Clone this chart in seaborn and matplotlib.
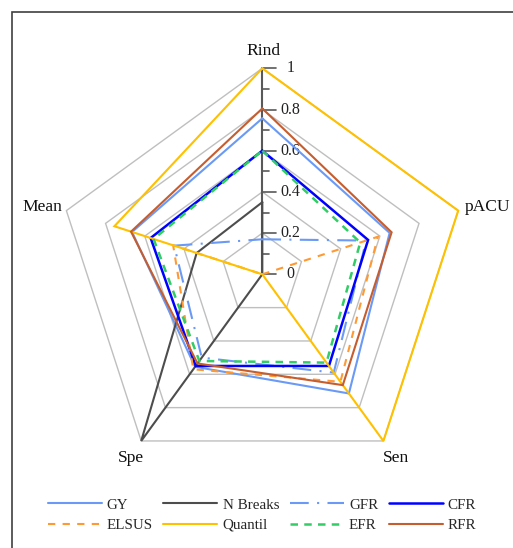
import numpy as np
import matplotlib
matplotlib.use("Agg")
import matplotlib.pyplot as plt
import seaborn as sns
from matplotlib.patches import Rectangle

# Radar axes, clockwise from the top
axis_names = ["Rind", "pACU", "Sen", "Spe", "Mean"]

# Scores per method on each axis (Rind, pACU, Sen, Spe, Mean)
gy = [0.757, 0.65, 0.715, 0.555, 0.665]
n_breaks = [0.35, 0.0, 0.0, 1.0, 0.335]
gfr = [0.17, 0.53, 0.59, 0.50, 0.45]
cfr = [0.60, 0.54, 0.55, 0.55, 0.57]
elsus = [0.0, 0.59, 0.645, 0.57, 0.455]
quantil = [1.0, 1.0, 1.0, 0.0, 0.755]
efr = [0.60, 0.50, 0.53, 0.52, 0.555]
rfr = [0.805, 0.66, 0.665, 0.535, 0.67]

series_names = ["GY", "N Breaks", "GFR", "CFR", "ELSUS", "Quantil", "EFR", "RFR"]
series_values = [gy, n_breaks, gfr, cfr, elsus, quantil, efr, rfr]

grid_levels = [0.2, 0.4, 0.6, 0.8, 1.0]
major_ticks = [0, 0.2, 0.4, 0.6, 0.8, 1]
major_labels = ["0", "0.2", "0.4", "0.6", "0.8", "1"]
minor_ticks = [0.1, 0.3, 0.5, 0.7, 0.9]

styles = {
    "GY": dict(color="#6A9AF5", linestyle="-", linewidth=1.5),
    "N Breaks": dict(color="#4D4D4D", linestyle="-", linewidth=1.5),
    "GFR": dict(color="#6A9AF5", linestyle=(0, (9, 4, 1, 4)), linewidth=1.5),
    "CFR": dict(color="#0000FF", linestyle="-", linewidth=1.8),
    "ELSUS": dict(color="#FF9933", linestyle=(0, (3.5, 3.5)), linewidth=1.5),
    "Quantil": dict(color="#FFC000", linestyle="-", linewidth=1.5),
    "EFR": dict(color="#33CC66", linestyle=(0, (3, 2.5)), linewidth=1.8),
    "RFR": dict(color="#C65D2E", linestyle="-", linewidth=1.5),
}

sns.set_theme(style="white")
plt.rcParams["font.family"] = ["Liberation Serif", "DejaVu Serif"]
plt.rcParams["lines.solid_joinstyle"] = "miter"
plt.rcParams["lines.dash_joinstyle"] = "miter"

W, H = 513, 548
scale = 206.0          # pixels per unit radius
cx, cy = 262.3, 274.3  # centre of the radar, pixels from top-left

fig = plt.figure(figsize=(W / 100, H / 100), dpi=100)
ax = fig.add_axes([0, 0, 1, 1])
ax.set_xlim(-cx / scale, (W - cx) / scale)
ax.set_ylim(-(H - cy) / scale, cy / scale)
ax.axis("off")

angles = np.deg2rad(90 - 72 * np.arange(len(axis_names)))


def to_xy(vals):
    v = np.asarray(vals, dtype=float)
    v = np.append(v, v[0])
    a = np.append(angles, angles[0])
    return v * np.cos(a), v * np.sin(a)


# pentagonal grid
for lvl in grid_levels:
    gx, gy_ = to_xy([lvl] * len(axis_names))
    ax.plot(gx, gy_, color="#BFBFBF", linewidth=1.0, zorder=1,
            solid_joinstyle="miter")

# value axis along Rind with ticks
ax.plot([0, 0], [0, 1], color="#595959", linewidth=1.5, zorder=2)
for t in major_ticks:
    ax.plot([0, 14 / scale], [t, t], color="#595959", linewidth=1.2, zorder=2)
for t in minor_ticks:
    ax.plot([0, 7 / scale], [t, t], color="#595959", linewidth=1.2, zorder=2)
for t, lab in zip(major_ticks, major_labels):
    ax.text(28 / scale, t, lab, ha="center", va="center", fontsize=11.5,
            color="#222222", zorder=3)

# series
handles = {}
for i, (name, vals) in enumerate(zip(series_names, series_values)):
    x, y = to_xy(vals)
    sns.lineplot(x=x, y=y, sort=False, estimator=None, ax=ax,
                 label=name, zorder=4 + i, legend=False, **styles[name])
    handles[name] = ax.lines[-1]

# axis name labels
label_offsets = {
    "Rind": ((1, 17), "center", "center"),
    "pACU": ((7, 4), "left", "center"),
    "Sen": ((13, -17), "center", "center"),
    "Spe": ((-10, -17), "center", "center"),
    "Mean": ((-4, 4), "right", "center"),
}
for name, a in zip(axis_names, angles):
    (ox, oy), ha, va = label_offsets[name]
    ax.annotate(name, xy=(np.cos(a), np.sin(a)), xytext=(ox, oy),
                textcoords="offset pixels", ha=ha, va=va, fontsize=12.6,
                color="#111111")

# legend, filled column-wise so rows read GY, N Breaks, GFR, CFR / ELSUS, ...
leg_order = ["GY", "ELSUS", "N Breaks", "Quantil", "GFR", "EFR", "CFR", "RFR"]
fig.legend([handles[n] for n in leg_order], leg_order, loc="center",
           bbox_to_anchor=(262 / W, 1 - 515 / H), ncol=4, frameon=False,
           handlelength=3.6, handletextpad=0.35, columnspacing=0.7,
           labelspacing=0.45, fontsize=10.8)

# outer frame
fig.patches.append(Rectangle((12 / W, -0.05), 1.2, (1 - 11.5 / H) + 0.05,
                             transform=fig.transFigure, fill=False,
                             edgecolor="#404040", linewidth=1.2))

fig.savefig("out.png", dpi=100)
